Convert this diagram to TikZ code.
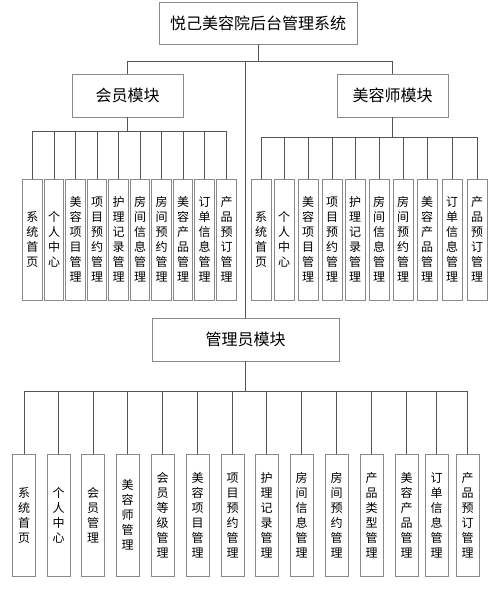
\documentclass[tikz,border=0pt]{standalone}
\usepackage{fontspec}
\newfontfamily\cjk{Noto Sans CJK SC}
\definecolor{boxgray}{HTML}{8A8A8A}
\definecolor{linegray}{HTML}{555555}
\tikzset{
  box/.style={draw=boxgray, fill=white, line width=0.9pt, inner sep=0pt, font=\cjk\fontsize{16}{18}\selectfont},
  leaf/.style={draw=boxgray, fill=white, line width=0.9pt, inner sep=0pt, align=center, font=\cjk\fontsize{12}{15}\selectfont},
  conn/.style={draw=linegray, line width=0.8pt}
}
\begin{document}
\begin{tikzpicture}[x=1pt,y=-1pt]
\useasboundingbox (0,0) rectangle (500,589);
\fill[white] (0,0) rectangle (500,589);
% main boxes
\node[box, minimum width=198pt, minimum height=42pt] (top) at (258,23) {悦己美容院后台管理系统};
\node[box, minimum width=111pt, minimum height=43pt] (mem) at (127.5,95.5) {会员模块};
\node[box, minimum width=111pt, minimum height=43pt] (bea) at (392.5,95.5) {美容师模块};
\node[box, minimum width=187pt, minimum height=43pt] (adm) at (245.5,339.5) {管理员模块};
% bus coordinates
\coordinate (bus0) at (258,61);
\coordinate (membus) at (127.5,131);
\coordinate (beabus) at (392.5,137);
\coordinate (admbus) at (245.5,391);
\draw[conn] (top.south) -- (bus0);
\draw[conn] (mem.north) |- (bus0);
\draw[conn] (bea.north) |- (bus0);
\draw[conn] (adm.north) |- (bus0);
\draw[conn] (mem.south) -- (membus);
\draw[conn] (bea.south) -- (beabus);
\draw[conn] (adm.south) -- (admbus);
% member children
\foreach \x/\t [count=\i] in {
  32.5/{系\\统\\首\\页},
  54/{个\\人\\中\\心},
  75.5/{美\\容\\项\\目\\管\\理},
  97/{项\\目\\预\\约\\管\\理},
  118.5/{护\\理\\记\\录\\管\\理},
  140/{房\\间\\信\\息\\管\\理},
  161.5/{房\\间\\预\\约\\管\\理},
  183/{美\\容\\产\\品\\管\\理},
  204.5/{订\\单\\信\\息\\管\\理},
  226.5/{产\\品\\预\\订\\管\\理}} {
  \node[leaf, minimum width=19.5pt, minimum height=121pt] (m\i) at (\x,239.5) {\t};
  \draw[conn] (m\i.north) |- (membus);
}
% beautician children
\foreach \x/\t [count=\i] in {
  261/{系\\统\\首\\页},
  284/{个\\人\\中\\心},
  308/{美\\容\\项\\目\\管\\理},
  332/{项\\目\\预\\约\\管\\理},
  355/{护\\理\\记\\录\\管\\理},
  379/{房\\间\\信\\息\\管\\理},
  403/{房\\间\\预\\约\\管\\理},
  427/{美\\容\\产\\品\\管\\理},
  452/{订\\单\\信\\息\\管\\理},
  477/{产\\品\\预\\订\\管\\理}} {
  \node[leaf, minimum width=20pt, minimum height=121pt] (b\i) at (\x,239.5) {\t};
  \draw[conn] (b\i.north) |- (beabus);
}
% admin children
\foreach \x/\t [count=\i] in {
  24/{系\\统\\首\\页},
  58.5/{个\\人\\中\\心},
  93/{会\\员\\管\\理},
  127.5/{美\\容\\师\\管\\理},
  162.5/{会\\员\\等\\级\\管\\理},
  197.5/{美\\容\\项\\目\\管\\理},
  232.5/{项\\目\\预\\约\\管\\理},
  266.5/{护\\理\\记\\录\\管\\理},
  301.5/{房\\间\\信\\息\\管\\理},
  336.5/{房\\间\\预\\约\\管\\理},
  371.5/{产\\品\\类\\型\\管\\理},
  406.5/{美\\容\\产\\品\\管\\理},
  436.5/{订\\单\\信\\息\\管\\理},
  467.5/{产\\品\\预\\订\\管\\理}} {
  \node[leaf, minimum width=23pt, minimum height=122pt] (a\i) at (\x,515) {\t};
  \draw[conn] (a\i.north) |- (admbus);
}
\end{tikzpicture}
\end{document}
